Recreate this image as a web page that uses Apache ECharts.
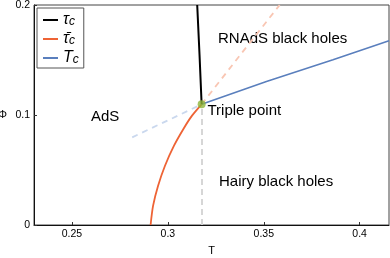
<!DOCTYPE html>
<html>
<head>
<meta charset="utf-8">
<script src="https://cdn.jsdelivr.net/npm/echarts@6/dist/echarts.min.js"></script>
<style>
html,body{margin:0;padding:0;background:#fff;}
#c{width:390px;height:258px;}
</style>
</head>
<body>
<div id="c"></div>
<script>
// ---- data (T, Phi) ----
const xTicks = [0.25, 0.3, 0.35, 0.4];
const yTicks = [0, 0.1, 0.2];

const tauC_T   = [0.3176, 0.3165, 0.3153];
const tauC_Phi = [0.1097, 0.155, 0.2];

const tauBar_T   = [0.2910, 0.2923, 0.2949, 0.2985, 0.3032, 0.3081, 0.3126, 0.3176];
const tauBar_Phi = [0, 0.0176, 0.0357, 0.0539, 0.0721, 0.0873, 0.0994, 0.1097];

const tauBarExt_T   = [0.3176, 0.3384, 0.3583];
const tauBarExt_Phi = [0.1097, 0.1561, 0.2];

const Tc_T   = [0.3176, 0.3514, 0.3861, 0.4153];
const Tc_Phi = [0.1097, 0.1305, 0.1502, 0.1675];

const TcExt_T   = [0.2814, 0.3176];
const TcExt_Phi = [0.0797, 0.1097];

const vert_T   = [0.3178, 0.3178];
const vert_Phi = [0, 0.1097];

const triple_T = [0.3176];
const triple_Phi = [0.1097];

const legendNames = ['tau_c', 'taubar_c', 'T_c'];
const legendTexts = {
  'tau_c': '{g|τ}{s|c}',
  'taubar_c': '{g|τ̄}{s|c}',
  'T_c': '{g|T}{s|c}'
};

function pairs(xs, ys){ return xs.map((x,i)=>[x, ys[i]]); }

const FONT = 'Liberation Sans, Arial, sans-serif';
const chart = echarts.init(document.getElementById('c'), null, {renderer:'canvas'});

const option = {
  animation: false,
  backgroundColor: '#fff',
  grid: { left: 34, right: 1, top: 5, bottom: 33, show: true, borderColor: '#444', borderWidth: 1,
          backgroundColor: 'transparent', containLabel: false, outerBoundsMode: 'none' },
  xAxis: {
    type: 'value', min: 0.2302, max: 0.4153,
    name: 'T', nameLocation: 'middle', nameGap: 20,
    nameTextStyle: { fontFamily: FONT, fontSize: 11, color: '#000' },
    axisLine: { lineStyle: { color: '#111', width: 1 } },
    axisTick: { inside: true, length: 3, customValues: xTicks, lineStyle: { color: '#333' } },
    axisLabel: { customValues: xTicks, fontFamily: FONT, fontSize: 10.5, color: '#000', margin: 4 },
    splitLine: { show: false }
  },
  yAxis: {
    type: 'value', min: 0, max: 0.2, interval: 0.1,
    name: 'Φ', nameLocation: 'middle', nameGap: 27, nameRotate: 0,
    nameTextStyle: { fontFamily: FONT, fontSize: 11, color: '#000' },
    axisLine: { lineStyle: { color: '#111', width: 1 } },
    axisTick: { inside: true, length: 3, customValues: yTicks, lineStyle: { color: '#333' } },
    axisLabel: { customValues: yTicks, fontFamily: FONT, fontSize: 10.5, color: '#000', margin: 4 },
    splitLine: { show: false }
  },
  legend: {
    data: legendNames.map(n => ({ name: n, icon: 'rect' })),
    orient: 'vertical', left: 37, top: 8,
    padding: [4, 5, 2, 6], itemGap: 3,
    itemWidth: 15, itemHeight: 2,
    borderColor: '#555', borderWidth: 1, backgroundColor: '#fff',
    formatter: n => legendTexts[n],
    textStyle: {
      color: '#000',
      rich: {
        g: { fontFamily: FONT, fontSize: 16, fontStyle: 'italic', color: '#000', lineHeight: 15 },
        s: { fontFamily: FONT, fontSize: 12, fontStyle: 'italic', color: '#000', lineHeight: 8, verticalAlign: 'bottom' }
      }
    }
  },
  graphic: [
    { type: 'text', x: 91, y: 116.5, style: { text: 'AdS', font: '15px ' + FONT, fill: '#000', textVerticalAlign: 'middle' } },
    { type: 'text', x: 218, y: 39, style: { text: 'RNAdS black holes', font: '15px ' + FONT, fill: '#000', textVerticalAlign: 'middle' } },
    { type: 'text', x: 207.5, y: 111, style: { text: 'Triple point', font: '15px ' + FONT, fill: '#000', textVerticalAlign: 'middle' } },
    { type: 'text', x: 219, y: 181.5, style: { text: 'Hairy black holes', font: '15px ' + FONT, fill: '#000', textVerticalAlign: 'middle' } }
  ],
  series: [
    { type: 'line', name: 'vert', data: pairs(vert_T, vert_Phi), symbol: 'none', silent: true,
      lineStyle: { color: '#d6d6d6', width: 2, type: [6, 4] } },
    { type: 'line', name: 'TcExt', data: pairs(TcExt_T, TcExt_Phi), symbol: 'none',
      lineStyle: { color: '#cad8ee', width: 1.8, type: [6, 5] } },
    { type: 'line', name: 'tauBarExt', data: pairs(tauBarExt_T, tauBarExt_Phi), symbol: 'none',
      lineStyle: { color: '#f9c6b3', width: 1.8, type: [6, 5] } },
    { type: 'line', name: 'taubar_c', data: pairs(tauBar_T, tauBar_Phi), symbol: 'none', smooth: 0.3,
      lineStyle: { color: '#ee6335', width: 1.8 }, itemStyle: { color: '#ee6335' } },
    { type: 'line', name: 'T_c', data: pairs(Tc_T, Tc_Phi), symbol: 'none',
      lineStyle: { color: '#5a7fbd', width: 1.6 }, itemStyle: { color: '#5a7fbd' } },
    { type: 'line', name: 'tau_c', data: pairs(tauC_T, tauC_Phi), symbol: 'none',
      lineStyle: { color: '#000', width: 2 }, itemStyle: { color: '#000' } },
    { type: 'scatter', name: 'triple', data: pairs(triple_T, triple_Phi), symbolSize: 8,
      itemStyle: { color: '#8db53a' }, z: 5 }
  ]
};
chart.setOption(option);
</script>
</body>
</html>
